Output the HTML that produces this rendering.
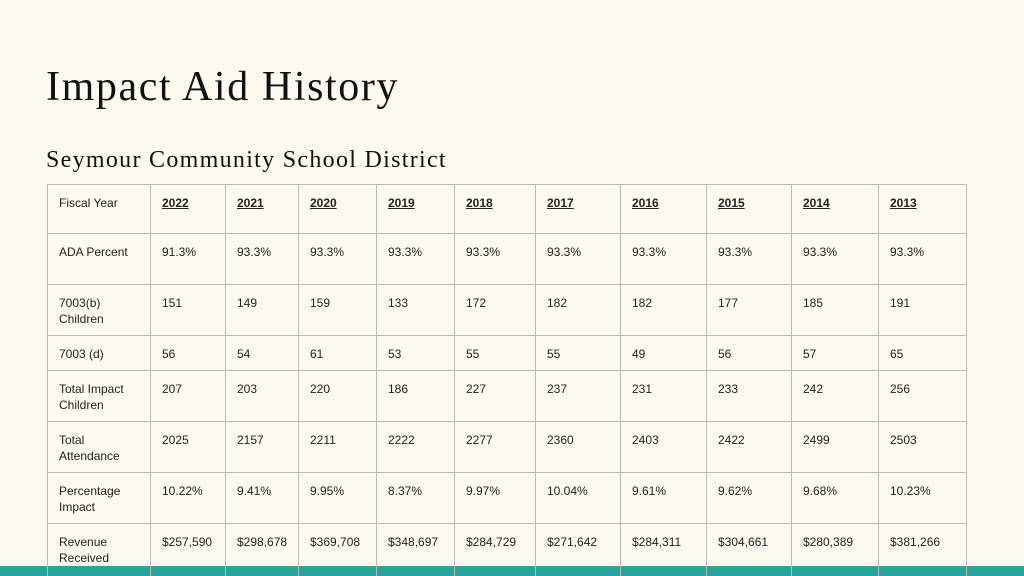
<!DOCTYPE html>
<html><head><meta charset="utf-8"><style>
html,body{margin:0;width:1024px;height:576px;overflow:hidden}
body{background:#fdf9ef;position:relative;font-family:"Liberation Sans",sans-serif}
h1{position:absolute;left:46px;top:63px;margin:0;font:400 42px "Liberation Serif",serif;color:#111;letter-spacing:1.6px}
h2{position:absolute;left:46px;top:147px;margin:0;font:400 24px "Liberation Serif",serif;color:#111;letter-spacing:1.3px}
table{position:absolute;left:47px;top:184px;border-collapse:collapse;table-layout:fixed;z-index:2}
td{border:1px solid #bdbab3;vertical-align:top;padding:10px 0 0 11px;font-size:12px;line-height:16px;color:#222;box-sizing:border-box}
tr.h td{font-weight:bold;text-decoration:underline}
tr.h td:first-child{font-weight:normal;text-decoration:none}
.bar{position:absolute;left:0;top:566px;width:1024px;height:10px;background:#26a69a;z-index:1}
</style></head><body>
<h1>Impact Aid History</h1>
<h2>Seymour Community School District</h2>
<div class="bar"></div>
<table>
<colgroup><col style="width:103px"><col style="width:75px"><col style="width:73px"><col style="width:78px"><col style="width:78px"><col style="width:81px"><col style="width:85px"><col style="width:86px"><col style="width:85px"><col style="width:87px"><col style="width:88px"></colgroup>
<tr class="h" style="height:49px"><td>Fiscal Year</td><td>2022</td><td>2021</td><td>2020</td><td>2019</td><td>2018</td><td>2017</td><td>2016</td><td>2015</td><td>2014</td><td>2013</td></tr>
<tr style="height:51px"><td>ADA Percent</td><td>91.3%</td><td>93.3%</td><td>93.3%</td><td>93.3%</td><td>93.3%</td><td>93.3%</td><td>93.3%</td><td>93.3%</td><td>93.3%</td><td>93.3%</td></tr>
<tr style="height:51px"><td>7003(b)<br>Children</td><td>151</td><td>149</td><td>159</td><td>133</td><td>172</td><td>182</td><td>182</td><td>177</td><td>185</td><td>191</td></tr>
<tr style="height:35px"><td>7003 (d)</td><td>56</td><td>54</td><td>61</td><td>53</td><td>55</td><td>55</td><td>49</td><td>56</td><td>57</td><td>65</td></tr>
<tr style="height:51px"><td>Total Impact<br>Children</td><td>207</td><td>203</td><td>220</td><td>186</td><td>227</td><td>237</td><td>231</td><td>233</td><td>242</td><td>256</td></tr>
<tr style="height:51px"><td>Total<br>Attendance</td><td>2025</td><td>2157</td><td>2211</td><td>2222</td><td>2277</td><td>2360</td><td>2403</td><td>2422</td><td>2499</td><td>2503</td></tr>
<tr style="height:51px"><td>Percentage<br>Impact</td><td>10.22%</td><td>9.41%</td><td>9.95%</td><td>8.37%</td><td>9.97%</td><td>10.04%</td><td>9.61%</td><td>9.62%</td><td>9.68%</td><td>10.23%</td></tr>
<tr style="height:60px"><td>Revenue<br>Received</td><td>$257,590</td><td>$298,678</td><td>$369,708</td><td>$348,697</td><td>$284,729</td><td>$271,642</td><td>$284,311</td><td>$304,661</td><td>$280,389</td><td>$381,266</td></tr>
</table>
</body></html>
